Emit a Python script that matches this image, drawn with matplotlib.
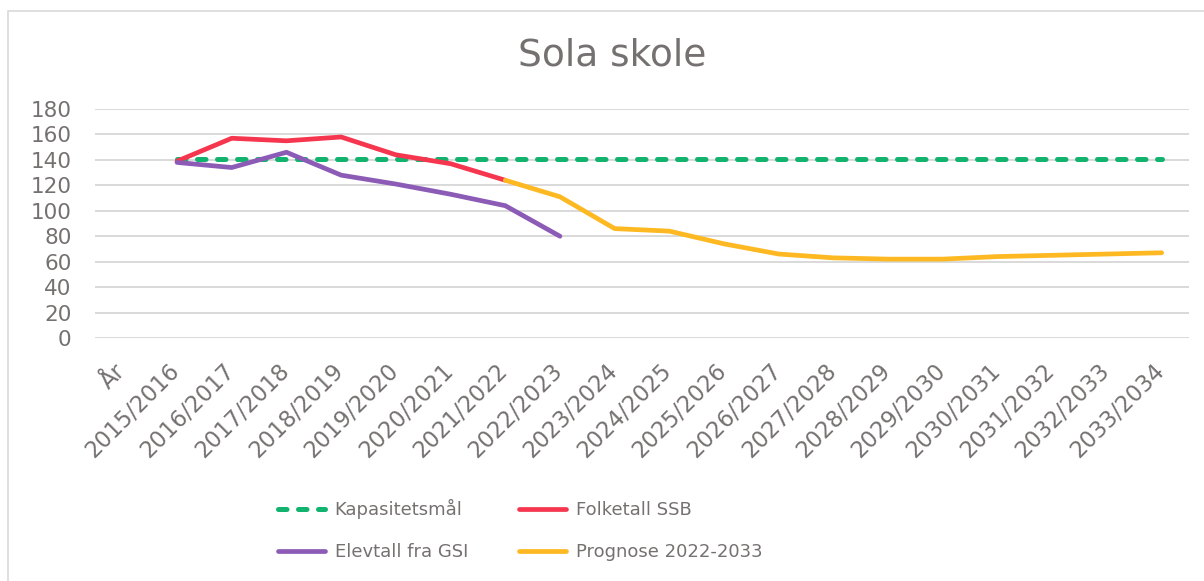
import numpy as np
import matplotlib
matplotlib.use("Agg")
import matplotlib.pyplot as plt
from matplotlib.patches import Rectangle
from matplotlib.transforms import ScaledTranslation

# Chart data
categories = ["År", "2015/2016", "2016/2017", "2017/2018", "2018/2019", "2019/2020",
              "2020/2021", "2021/2022", "2022/2023", "2023/2024", "2024/2025",
              "2025/2026", "2026/2027", "2027/2028", "2028/2029", "2029/2030",
              "2030/2031", "2031/2032", "2032/2033", "2033/2034"]

nan = np.nan
kapasitet = [nan] + [141] * 19
folketall = [nan, 139, 157, 155, 158, 144, 137, 124] + [nan] * 12
elevtall = [nan, 138, 134, 146, 128, 121, 113, 104, 80] + [nan] * 11
prognose = [nan] * 7 + [124, 111, 86, 84, 74, 66, 63, 62, 62, 64, 65, 66, 67]

yticks = [0, 20, 40, 60, 80, 100, 120, 140, 160, 180]

TEXT = "#767171"
GRID = "#D9D9D9"

plt.rcParams['font.family'] = ['DejaVu Sans']

fig = plt.figure(figsize=(12.04, 5.81), dpi=100)
W, H = 1204, 581
ax = fig.add_axes([95 / W, 1 - 338 / H, (1189 - 95) / W, (338 - 109) / H])

x = np.arange(len(categories))

ax.plot(x, kapasitet, color="#12B36F", lw=3.6, dashes=(1.7, 2.3),
        dash_capstyle="round", label="Kapasitetsmål", zorder=3)
ax.plot(x, folketall, color="#F5364E", lw=3.4, solid_capstyle="round",
        label="Folketall SSB", zorder=4)
ax.plot(x, elevtall, color="#8B5BB6", lw=3.4, solid_capstyle="round",
        label="Elevtall fra GSI", zorder=5)
ax.plot(x, prognose, color="#FDB822", lw=3.4, solid_capstyle="round",
        label="Prognose 2022-2033", zorder=4)

ax.set_xlim(-0.5, len(categories) - 0.5)
ax.set_ylim(0, 180)
ax.set_yticks(yticks)
ax.set_xticks(x)
ax.set_xticklabels(categories, rotation=45, ha="right", va="top",
                   rotation_mode="anchor")
ax.tick_params(axis="both", length=0, colors=TEXT)
ax.tick_params(axis="y", pad=17, labelsize=15.5)
ax.tick_params(axis="x", pad=15.5, labelsize=16.3)
shift = ScaledTranslation(-9 / 100, 0, fig.dpi_scale_trans)
for lab in ax.get_xticklabels():
    lab.set_transform(lab.get_transform() + shift)
ax.grid(axis="y", color=GRID, lw=1.4)
ax.set_axisbelow(True)
for s in ax.spines.values():
    s.set_visible(False)

fig.text(612 / W, 1 - 56 / H, "Sola skole", ha="center", va="center",
         fontsize=27, color=TEXT)

handles, labels = ax.get_legend_handles_labels()
order = [0, 2, 1, 3]
leg = fig.legend([handles[i] for i in order], [labels[i] for i in order],
                 loc="center", bbox_to_anchor=(520 / W, 1 - 530 / H), ncol=2,
                 frameon=False, fontsize=13, handlelength=2.6,
                 handletextpad=0.55, columnspacing=2.8, labelspacing=1.35)
for t in leg.get_texts():
    t.set_color(TEXT)

# light chart border (cut off on the right and bottom in the reference)
fig.patches.append(Rectangle((8 / W, -0.1), 1.2, 1 - 11 / H + 0.1,
                             transform=fig.transFigure, fill=False,
                             edgecolor=GRID, lw=1.2))

fig.savefig("out.png", dpi=100)
